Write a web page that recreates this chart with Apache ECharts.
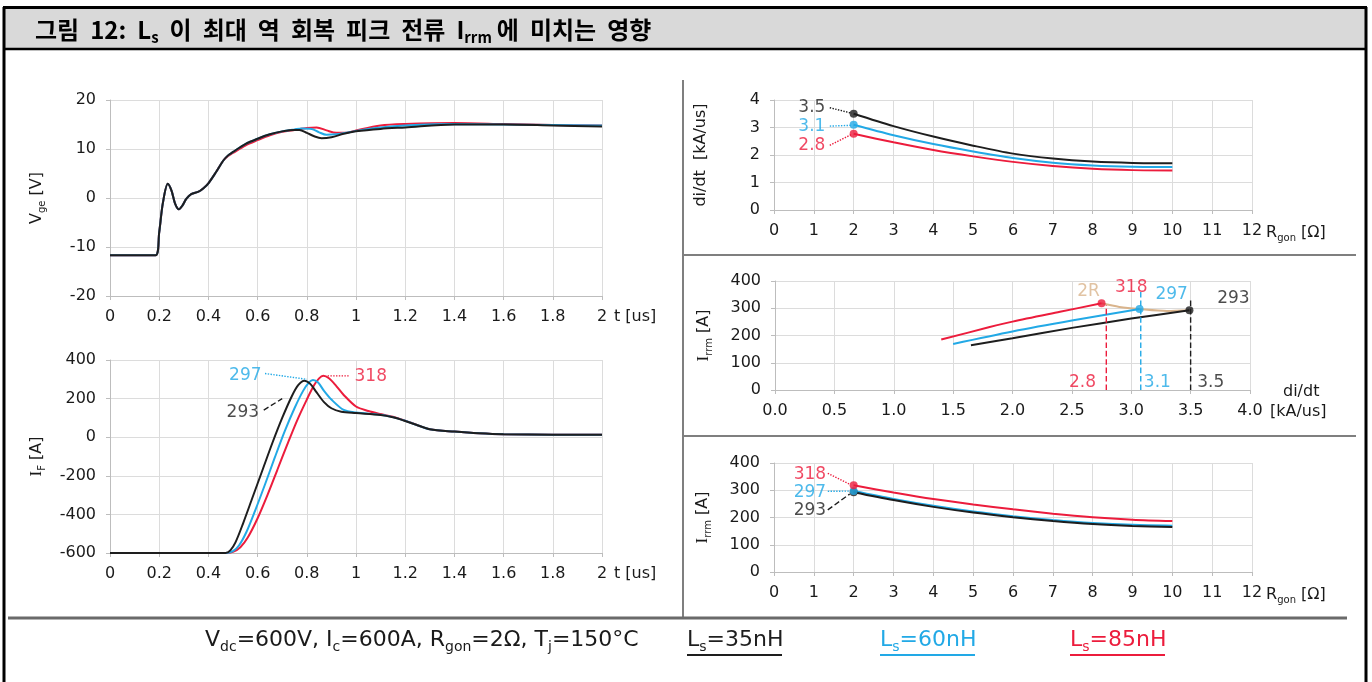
<!DOCTYPE html>
<html><head><meta charset="utf-8">
<script src="https://cdn.jsdelivr.net/npm/echarts@6/dist/echarts.min.js"></script>
<style>html,body{margin:0;padding:0;background:#fff}#c{width:1372px;height:682px}</style>
</head><body><div id="c"></div>
<script>
// ---------------- DATA ----------------
const seriesLabels = ['Ls=35nH', 'Ls=60nH', 'Ls=85nH'];
const peakIrrm = [293, 297, 318];          // black, blue, red
const peakDidt = [3.5, 3.1, 2.8];          // black, blue, red
const rgon = [2, 3, 4, 5, 6, 7, 8, 9, 10];

const vgeBlack = [[0,-11.7],[0.1,-11.7],[0.185,-11.7],[0.2,-7],[0.215,-1],[0.235,2.9],[0.25,1.5],[0.265,-1.2],[0.28,-2.3],[0.295,-1.5],[0.31,-0.2],[0.33,0.8],[0.36,1.3],[0.38,2],[0.4,3],[0.43,5.2],[0.46,7.6],[0.48,8.7],[0.5,9.4],[0.55,11],[0.6,12.1],[0.65,13],[0.7,13.6],[0.75,13.9],[0.77,13.9],[0.8,13.3],[0.83,12.6],[0.86,12.2],[0.9,12.4],[0.95,13.1],[1.0,13.6],[1.1,14.1],[1.2,14.4],[1.4,15.0],[1.6,15.0],[1.8,14.8],[2.0,14.6]];
const vgeBlue  = [[0,-11.7],[0.1,-11.7],[0.185,-11.7],[0.2,-7],[0.215,-1],[0.235,2.9],[0.25,1.5],[0.265,-1.2],[0.28,-2.3],[0.295,-1.5],[0.31,-0.2],[0.33,0.8],[0.36,1.3],[0.38,2],[0.4,3],[0.43,5.2],[0.46,7.6],[0.48,8.7],[0.5,9.4],[0.55,11],[0.6,12.1],[0.65,13],[0.7,13.6],[0.75,14.0],[0.78,14.2],[0.82,14.1],[0.85,13.4],[0.88,12.9],[0.92,13.0],[0.96,13.3],[1.0,13.7],[1.1,14.4],[1.2,14.8],[1.4,15.1],[1.6,15.0],[1.8,14.9],[2.0,14.8]];
const vgeRed   = [[0,-11.7],[0.1,-11.7],[0.185,-11.7],[0.2,-7],[0.215,-1],[0.235,2.9],[0.25,1.5],[0.265,-1.2],[0.28,-2.3],[0.295,-1.5],[0.31,-0.2],[0.33,0.8],[0.36,1.3],[0.38,2],[0.4,3],[0.43,5.2],[0.46,7.6],[0.48,8.6],[0.5,9.2],[0.55,10.7],[0.6,11.8],[0.65,12.8],[0.7,13.5],[0.75,13.9],[0.8,14.3],[0.84,14.4],[0.88,13.8],[0.92,13.3],[0.96,13.3],[1.0,13.8],[1.1,14.8],[1.2,15.1],[1.4,15.3],[1.6,15.1],[1.8,14.9],[2.0,14.8]];

const ifBlack = [[0,-600],[0.47,-600],[0.49,-585],[0.51,-545],[0.54,-450],[0.58,-310],[0.62,-170],[0.66,-30],[0.7,100],[0.74,215],[0.765,270],[0.79,293],[0.815,275],[0.84,232],[0.87,182],[0.9,150],[0.94,132],[1.0,125],[1.1,115],[1.15,103],[1.2,84],[1.25,62],[1.3,41],[1.4,29],[1.5,20],[1.6,15],[1.8,13],[2.0,13]];
const ifBlue  = [[0,-600],[0.47,-600],[0.5,-590],[0.525,-560],[0.555,-490],[0.59,-380],[0.63,-245],[0.67,-105],[0.71,30],[0.75,150],[0.785,240],[0.81,285],[0.825,297],[0.845,285],[0.87,240],[0.9,195],[0.95,141],[1.0,128],[1.1,116],[1.15,104],[1.2,85],[1.25,62],[1.3,41],[1.4,29],[1.5,20],[1.6,15],[1.8,13],[2.0,13]];
const ifRed   = [[0,-600],[0.47,-600],[0.5,-594],[0.53,-570],[0.56,-520],[0.6,-420],[0.64,-300],[0.68,-170],[0.72,-40],[0.76,85],[0.8,195],[0.83,270],[0.85,305],[0.867,318],[0.89,305],[0.92,265],[0.95,219],[1.0,159],[1.05,136],[1.1,120],[1.15,106],[1.2,86],[1.25,62],[1.3,41],[1.4,29],[1.5,20],[1.6,15],[1.8,13],[2.0,13]];

const didtBlack = [3.5, 3.05, 2.67, 2.34, 2.05, 1.87, 1.76, 1.71, 1.70];
const didtBlue  = [3.1, 2.72, 2.40, 2.13, 1.89, 1.72, 1.62, 1.57, 1.56];
const didtRed   = [2.77, 2.46, 2.18, 1.95, 1.75, 1.60, 1.50, 1.45, 1.44];

const irrmDidtBlack = [[1.65,164],[2.0,190],[2.5,228],[3.0,262],[3.49,293]];
const irrmDidtBlue  = [[1.5,169],[2.0,215],[2.5,255],[3.07,297]];
const irrmDidtRed   = [[1.4,185],[1.8,230],[2.0,251],[2.4,287],[2.75,318]];
const dashX = [3.5, 3.08, 2.79];           // vertical marker positions black, blue, red

const irrmRgonBlack = [293, 264, 239, 218, 201, 187, 176, 169, 165];
const irrmRgonBlue  = [297, 268, 243, 222, 205, 191, 180, 173, 170];
const irrmRgonRed   = [318, 292, 268, 248, 230, 214, 201, 192, 187];

// ---------------- STYLE ----------------
const FONT = 'DejaVu Sans';
const TXT = '#1a1a1a';
const C = { black: '#1e1e1e', blue: '#22a9e6', red: '#ec1c3c', tan: '#d9b48c' };
const GRID = '#dcdcdc', AXIS = '#bdbdbd';

const chart = echarts.init(document.getElementById('c'), null, { renderer: 'canvas' });

const grids = [
  { left: 110, top: 100, width: 492, height: 196 },
  { left: 110, top: 360, width: 492, height: 193 },
  { left: 774, top: 100, width: 478, height: 110 },
  { left: 775, top: 281, width: 475, height: 109 },
  { left: 774, top: 463, width: 478, height: 109 }
];

const subRich = {
  a: { fontSize: 16, color: TXT, fontFamily: FONT, lineHeight: 20 },
  i: { fontSize: 17, color: TXT, fontFamily: 'Liberation Serif', lineHeight: 20 },
  s: { fontSize: 10, color: TXT, fontFamily: FONT, lineHeight: 10, verticalAlign: 'bottom' },
  u: { fontSize: 16, color: TXT, fontFamily: FONT, lineHeight: 21, padding: [0, 0, 0, 13] }
};

function xAx(g, min, max, interval, name, fmt, nameGap, extraName) {
  return Object.assign({
    type: 'value', gridIndex: g, min, max, interval,
    axisLine: { show: true, onZero: false, lineStyle: { color: AXIS, width: 1 } },
    axisTick: { show: true, length: 4, lineStyle: { color: AXIS } },
    splitLine: { show: true, lineStyle: { color: GRID, width: 1 } },
    axisLabel: { color: TXT, fontSize: 16, fontFamily: FONT, margin: 13, formatter: fmt },
    name, nameLocation: 'end', nameGap: nameGap,
    nameTextStyle: { color: TXT, fontSize: 16, fontFamily: FONT, verticalAlign: 'top', align: 'left', padding: [13, 0, 0, 0], rich: subRich }
  }, extraName || {});
}
function yAx(g, min, max, interval, name, gap) {
  return {
    type: 'value', gridIndex: g, min, max, interval,
    axisLine: { show: true, lineStyle: { color: AXIS, width: 1 } },
    axisTick: { show: true, length: 4, lineStyle: { color: AXIS } },
    splitLine: { show: true, lineStyle: { color: GRID, width: 1 } },
    axisLabel: { color: TXT, fontSize: 16, fontFamily: FONT, margin: 14 },
    name, nameLocation: 'middle', nameRotate: 90, nameGap: gap,
    nameTextStyle: { rich: subRich }
  };
}
const fmtT = v => String(parseFloat(v.toFixed(1)));
const fmtInt = v => String(Math.round(v));
const fmt1 = v => v.toFixed(1);

function line(g, data, color, extra) {
  return Object.assign({
    type: 'line', xAxisIndex: g, yAxisIndex: g, data, symbol: 'none',
    smooth: 0.3, lineStyle: { width: 2, color }, itemStyle: { color },
    silent: true, animation: false, z: 3
  }, extra || {});
}
function leader(g, pts, color, type) {
  return { type: 'line', xAxisIndex: g, yAxisIndex: g, data: pts, symbol: 'none', smooth: false,
    lineStyle: { width: 1.4, color, type: type || 'dotted' }, silent: true, animation: false, z: 4 };
}
function txt(g, pos, text, color, size) {
  return { type: 'scatter', xAxisIndex: g, yAxisIndex: g, data: [pos], symbolSize: 1,
    itemStyle: { color: 'rgba(0,0,0,0)' },
    label: { show: true, position: 'inside', formatter: text, color, fontSize: size || 17, fontFamily: FONT },
    silent: true, animation: false, z: 6 };
}
function dots(g, pts, colors) {
  return { type: 'scatter', xAxisIndex: g, yAxisIndex: g, symbolSize: 8,
    data: pts.map((p, i) => ({ value: p, itemStyle: { color: colors[i] } })),
    silent: true, animation: false, z: 7 };
}
const zip = (xs, ys) => xs.map((x, i) => [x, ys[i]]);
const last = a => a[a.length - 1];

// annotation layout (positions in data units)
const series = [
  // Vge
  line(0, vgeRed, C.red), line(0, vgeBlue, C.blue), line(0, vgeBlack, C.black),
  // IF
  line(1, ifRed, C.red), line(1, ifBlue, C.blue), line(1, ifBlack, C.black),
  leader(1, [[0.63, 330], [0.8, 300]], C.blue),
  leader(1, [[0.97, 318], [0.88, 318]], C.red),
  leader(1, [[0.625, 140], [0.7, 200]], C.black, 'dashed'),
  txt(1, [0.55, 318], String(peakIrrm[1]), C.blue),
  txt(1, [1.06, 313], String(peakIrrm[2]), C.red),
  txt(1, [0.54, 128], String(peakIrrm[0]), C.black),
  // di/dt vs Rgon
  line(2, zip(rgon, didtRed), C.red), line(2, zip(rgon, didtBlue), C.blue), line(2, zip(rgon, didtBlack), C.black),
  dots(2, [[2, didtBlack[0]], [2, didtBlue[0]], [2, didtRed[0]]], [C.black, C.blue, C.red]),
  leader(2, [[1.4, 3.72], [1.95, 3.52]], C.black),
  leader(2, [[1.4, 3.05], [1.95, 3.08]], C.blue),
  leader(2, [[1.4, 2.35], [1.95, 2.75]], C.red),
  txt(2, [0.95, 3.71], peakDidt[0].toFixed(1), C.black),
  txt(2, [0.95, 3.02], peakDidt[1].toFixed(1), C.blue),
  txt(2, [0.95, 2.33], peakDidt[2].toFixed(1), C.red),
  // Irrm vs di/dt
  leader(3, [[dashX[2], 0], [dashX[2], 310]], C.red, 'dashed'),
  leader(3, [[dashX[1], 0], [dashX[1], 360]], C.blue, 'dashed'),
  leader(3, [[dashX[0], 0], [dashX[0], 336]], C.black, 'dashed'),
  line(3, irrmDidtRed, C.red), line(3, irrmDidtBlue, C.blue), line(3, irrmDidtBlack, C.black),
  line(3, [last(irrmDidtRed), [2.9, 305], last(irrmDidtBlue), [3.3, 290], last(irrmDidtBlack)], C.tan, { z: 2 }),
  dots(3, [last(irrmDidtBlack), last(irrmDidtBlue), last(irrmDidtRed)], [C.black, C.blue, C.red]),
  txt(3, [2.64, 362], '2R', C.tan),
  txt(3, [3.0, 377], String(peakIrrm[2]), C.red),
  txt(3, [3.34, 350], String(peakIrrm[1]), C.blue),
  txt(3, [3.86, 337], String(peakIrrm[0]), C.black),
  txt(3, [2.59, 27], peakDidt[2].toFixed(1), C.red),
  txt(3, [3.22, 27], peakDidt[1].toFixed(1), C.blue),
  txt(3, [3.67, 27], peakDidt[0].toFixed(1), C.black),
  // Irrm vs Rgon
  line(4, zip(rgon, irrmRgonRed), C.red), line(4, zip(rgon, irrmRgonBlue), C.blue), line(4, zip(rgon, irrmRgonBlack), C.black),
  dots(4, [[2, irrmRgonBlack[0]], [2, irrmRgonBlue[0]], [2, irrmRgonRed[0]]], [C.black, C.blue, C.red]),
  leader(4, [[1.35, 362], [1.9, 322]], C.red),
  leader(4, [[1.35, 296], [1.9, 297]], C.blue),
  leader(4, [[1.35, 228], [1.9, 286]], C.black, 'dashed'),
  txt(4, [0.9, 358], String(peakIrrm[2]), C.red),
  txt(4, [0.9, 290], String(peakIrrm[1]), C.blue),
  txt(4, [0.9, 224], String(peakIrrm[0]), C.black)
];

const rgonName = '{a|R}{s|gon}{a| [Ω]}';
const KR = 'Noto Sans CJK KR';
const titleText = '{b|그림}{g| }{b|12:}{g| }{b|L}{bs|s}{g| }{b|이}{g| }{b|최대}{g| }{b|역}{g| }{b|회복}{g| }{b|피크}{g| }{b|전류}{g| }{b|I}{bs|rrm}{h| }{b|에}{g| }{b|미치는}{g| }{b|영향}';
const footRich = col => ({
  a: { fontSize: 22, fontFamily: FONT, fill: col, lineHeight: 28 },
  s: { fontSize: 14, fontFamily: FONT, fill: col, lineHeight: 14, verticalAlign: 'bottom' }
});
const option = {
  animation: false,
  backgroundColor: '#ffffff',
  grid: grids.map(g => Object.assign({ containLabel: false }, g)),
  xAxis: [
    xAx(0, 0, 2, 0.2, 't [us]', fmtT, 12),
    xAx(1, 0, 2, 0.2, 't [us]', fmtT, 12),
    xAx(2, 0, 12, 1, rgonName, fmtInt, 14),
    xAx(3, 0, 4, 0.5, '{u|di/dt}\n{a|[kA/us]}', fmt1, 20,
      { nameTextStyle: { verticalAlign: 'middle', align: 'left', padding: [23, 0, 0, 0], rich: subRich } }),
    xAx(4, 0, 12, 1, rgonName, fmtInt, 14)
  ],
  yAxis: [
    yAx(0, -20, 20, 10, '{a|V}{s|ge}{a| [V]}', 63),
    yAx(1, -600, 400, 200, '{i|I}{s|F}{a| [A]}', 63),
    yAx(2, 0, 4, 1, '{a|di/dt  [kA/us]}', 63),
    yAx(3, 0, 400, 100, '{i|I}{s|rrm}{a| [A]}', 61),
    yAx(4, 0, 400, 100, '{i|I}{s|rrm}{a| [A]}', 61)
  ],
  series,
  graphic: [
    { type: 'rect', shape: { x: 4, y: 7, width: 1362, height: 42 }, style: { fill: '#d9d9d9' }, z: -10 },
    { type: 'line', shape: { x1: 3, y1: 7.5, x2: 1367, y2: 7.5 }, style: { stroke: '#000', lineWidth: 3 } },
    { type: 'line', shape: { x1: 4, y1: 49, x2: 1366, y2: 49 }, style: { stroke: '#000', lineWidth: 2.5 } },
    { type: 'line', shape: { x1: 4, y1: 7, x2: 4, y2: 682 }, style: { stroke: '#000', lineWidth: 3 } },
    { type: 'line', shape: { x1: 1366, y1: 7, x2: 1366, y2: 682 }, style: { stroke: '#000', lineWidth: 3 } },
    { type: 'line', shape: { x1: 683, y1: 80, x2: 683, y2: 617 }, style: { stroke: '#7f7f7f', lineWidth: 2 } },
    { type: 'line', shape: { x1: 684, y1: 255, x2: 1356, y2: 255 }, style: { stroke: '#7f7f7f', lineWidth: 2 } },
    { type: 'line', shape: { x1: 684, y1: 436, x2: 1356, y2: 436 }, style: { stroke: '#7f7f7f', lineWidth: 2 } },
    { type: 'line', shape: { x1: 8, y1: 618, x2: 1347, y2: 618 }, style: { stroke: '#6a6a6a', lineWidth: 3 } },
    { type: 'text', x: 35, y: 30, style: {
        text: titleText, verticalAlign: 'middle', align: 'left',
        rich: {
          b: { fontSize: 24, fontWeight: 'bold', fontFamily: KR, fill: '#000', lineHeight: 30 },
          bs: { fontSize: 15, fontWeight: 'bold', fontFamily: KR, fill: '#000', lineHeight: 15, verticalAlign: 'bottom' },
          g: { fontSize: 24, fontFamily: KR, width: 11, lineHeight: 30 },
          h: { fontSize: 24, fontFamily: KR, width: 5, lineHeight: 30 }
        } } },
    { type: 'text', x: 205, y: 640, style: {
        text: '{a|V}{s|dc}{a|=600V, I}{s|c}{a|=600A, R}{s|gon}{a|=2Ω, T}{s|j}{a|=150°C}',
        verticalAlign: 'middle', align: 'left', rich: footRich(TXT) } },
    { type: 'text', x: 687, y: 640, style: { text: '{a|L}{s|s}{a|=35nH}', verticalAlign: 'middle', align: 'left', rich: footRich(C.black) } },
    { type: 'text', x: 880, y: 640, style: { text: '{a|L}{s|s}{a|=60nH}', verticalAlign: 'middle', align: 'left', rich: footRich(C.blue) } },
    { type: 'text', x: 1070, y: 640, style: { text: '{a|L}{s|s}{a|=85nH}', verticalAlign: 'middle', align: 'left', rich: footRich(C.red) } },
    { type: 'line', shape: { x1: 687, y1: 655, x2: 782, y2: 655 }, style: { stroke: C.black, lineWidth: 2 } },
    { type: 'line', shape: { x1: 880, y1: 655, x2: 975, y2: 655 }, style: { stroke: C.blue, lineWidth: 2 } },
    { type: 'line', shape: { x1: 1070, y1: 655, x2: 1165, y2: 655 }, style: { stroke: C.red, lineWidth: 2 } }
  ]
};
chart.setOption(option);
</script>
</body></html>
